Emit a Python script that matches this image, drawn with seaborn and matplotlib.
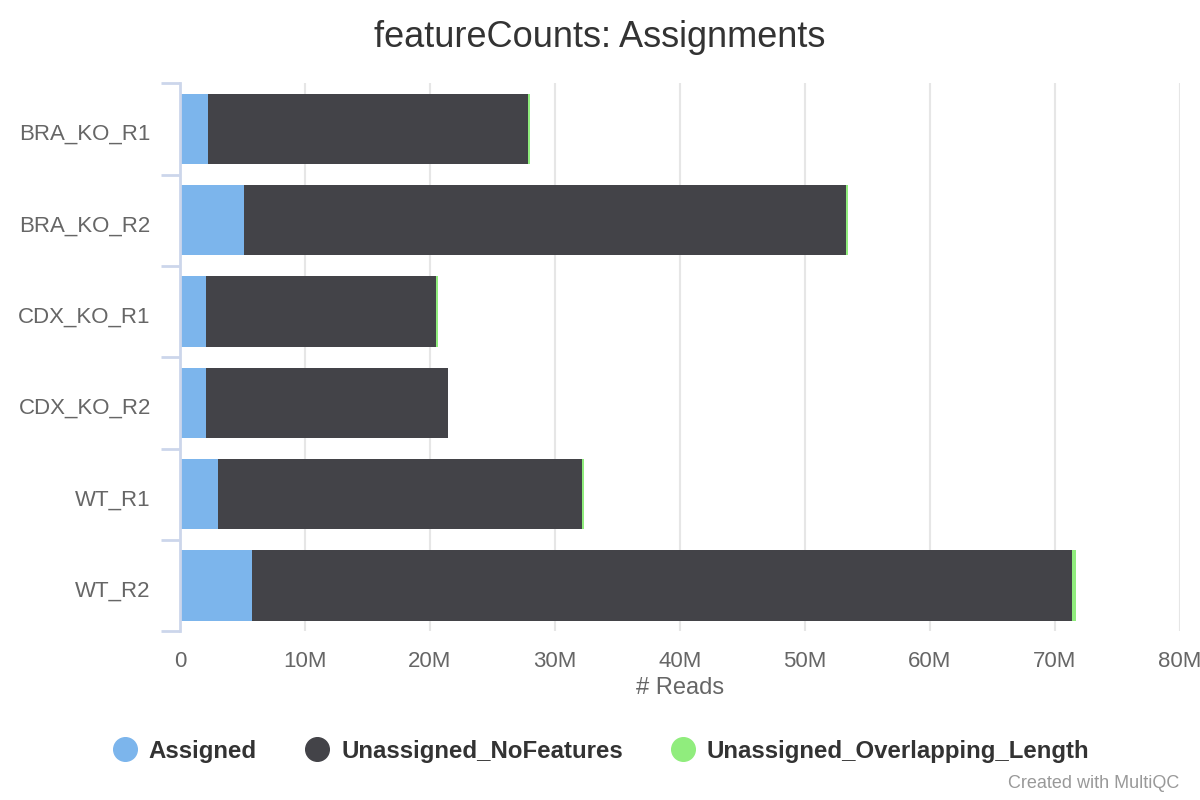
import numpy as np
import pandas as pd
import seaborn as sns
import matplotlib.pyplot as plt
import matplotlib.transforms as mtransforms
from matplotlib.lines import Line2D
from matplotlib.ticker import FuncFormatter, FixedLocator

# values in millions of reads
samples = ["BRA_KO_R1", "BRA_KO_R2", "CDX_KO_R1", "CDX_KO_R2", "WT_R1", "WT_R2"]
assigned = [2.24, 5.12, 2.08, 2.08, 3.04, 5.76]
no_features = [25.60, 48.16, 18.40, 19.36, 29.12, 65.60]
overlap_len = [0.16, 0.16, 0.16, 0.02, 0.16, 0.32]

series_names = ["Assigned", "Unassigned_NoFeatures", "Unassigned_Overlapping_Length"]
colors = ["#7cb5ec", "#434348", "#90ed7d"]

df = pd.DataFrame({"sample": samples, "a": assigned, "b": no_features, "c": overlap_len})
df["ab"] = df["a"] + df["b"]
df["abc"] = df["ab"] + df["c"]

sns.set_theme(style="white")
plt.rcParams["font.family"] = ["Liberation Sans", "DejaVu Sans"]

fig = plt.figure(figsize=(12, 8), dpi=100)
ax = fig.add_axes([0.15, 0.211, 0.833, 0.685])

# stacked bars: draw totals first, then overlay the lower parts
for col, c in zip(["abc", "ab", "a"], [colors[2], colors[1], colors[0]]):
    sns.barplot(data=df, x=col, y="sample", order=samples, color=c, width=0.77,
                saturation=1, orient="h", ax=ax, zorder=2, linewidth=0, edgecolor="none")

ax.set_xlim(0, 80)
ax.set_ylim(5.5, -0.5)
ax.set_xticks(np.arange(0, 81, 10))
ax.xaxis.set_major_formatter(FuncFormatter(lambda v, p: "0" if v == 0 else f"{int(v)}M"))
ax.grid(axis="x", color="#e6e6e6", linewidth=1.5, zorder=0)
ax.set_axisbelow(True)

for s in ["top", "right", "bottom"]:
    ax.spines[s].set_visible(False)
ax.spines["left"].set_color("#ccd6eb")
ax.spines["left"].set_linewidth(2)

ax.tick_params(axis="x", length=0, labelsize=16, labelcolor="#666666", pad=14)
ax.tick_params(axis="y", which="major", length=0, labelsize=16, labelcolor="#666666", pad=21)
ax.yaxis.set_minor_locator(FixedLocator(np.arange(-0.5, 6, 1)))
ax.tick_params(axis="y", which="minor", left=True, length=14, width=2, color="#ccd6eb")

# nudge sample labels down a little
offset = mtransforms.ScaledTranslation(0, -3 / 100, fig.dpi_scale_trans)
for lab in ax.get_yticklabels():
    lab.set_transform(lab.get_transform() + offset)

ax.set_xlabel("# Reads", fontsize=17, color="#666666", labelpad=4)
ax.set_ylabel("")

fig.suptitle("featureCounts: Assignments", fontsize=26, color="#333333", y=0.975)

handles = [Line2D([], [], marker="o", linestyle="", markersize=17, color=c) for c in colors]
leg = fig.legend(handles, series_names, loc="center", bbox_to_anchor=(0.5, 0.061), ncol=3,
                 frameon=False, fontsize=17.3, handlelength=1.2, handletextpad=0.4,
                 columnspacing=1.9)
for t in leg.get_texts():
    t.set_fontweight("bold")
    t.set_color("#333333")

fig.text(0.983, 0.02, "Created with MultiQC", ha="right", va="center", fontsize=13, color="#999999")

fig.savefig("out.png", dpi=100)
